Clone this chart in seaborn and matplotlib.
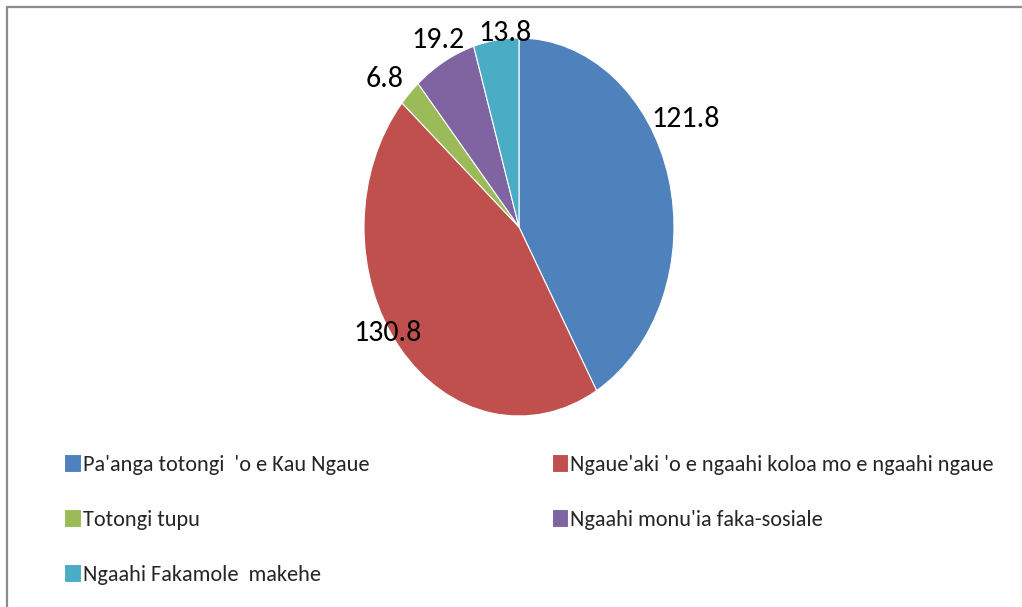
import numpy as np
import matplotlib
matplotlib.use("Agg")
import matplotlib.pyplot as plt
from matplotlib.patches import Rectangle
import seaborn as sns

# Income sources (values shown on the slices)
categories = [
    "Pa'anga totongi  'o e Kau Ngaue",
    "Ngaue'aki 'o e ngaahi koloa mo e ngaahi ngaue",
    "Totongi tupu",
    "Ngaahi monu'ia faka-sosiale",
    "Ngaahi Fakamole  makehe",
]
values = [121.8, 130.8, 6.8, 19.2, 13.8]
value_labels = ["121.8", "130.8", "6.8", "19.2", "13.8"]

slice_colors = ["#4F81BD", "#C0504D", "#9BBB59", "#8064A2", "#4BACC6"]

# Per-label nudges (degrees along the rim, radius in pie units)
label_angle_shift = [-13, 6, -3, 1, 3.5]
label_radius = [1.22, 1.02, 1.17, 1.12, 1.03]

sns.set_theme(style="white")
plt.rcParams["font.family"] = ["Carlito", "DejaVu Sans"]

W, H = 1022, 607
fig = plt.figure(figsize=(W / 100, H / 100), dpi=100)
fig.patch.set_facecolor("white")

# Chart-area border (open on the right and bottom)
fig.add_artist(Rectangle((6.5 / W, -0.1), 1.2, (H - 6.5) / H + 0.1,
                         transform=fig.transFigure, fill=False,
                         edgecolor="#8C8C8C", linewidth=1.6))

cx, cy, rx, ry = 519, 227, 155, 189
ax = fig.add_axes([(cx - rx) / W, 1 - (cy + ry) / H, 2 * rx / W, 2 * ry / H])
palette = sns.color_palette(slice_colors)
wedges, _ = ax.pie(values, colors=palette, startangle=90, counterclock=False,
                   wedgeprops=dict(edgecolor="white", linewidth=0.8))
ax.set_aspect("auto")
ax.set_xlim(-1, 1)
ax.set_ylim(-1, 1)
ax.axis("off")

total = float(np.sum(values))
start = 0.0
for v, txt, dth, r in zip(values, value_labels, label_angle_shift, label_radius):
    mid = start + v / total * 360 / 2 + dth
    start += v / total * 360
    a = np.deg2rad(mid)
    ax.text(r * np.sin(a), r * np.cos(a), txt, ha="center", va="center",
            fontsize=21.5, color="black", clip_on=False)

# Legend: two columns, filled row by row
order = [0, 2, 4, 1, 3]
leg = fig.legend([wedges[i] for i in order], [categories[i] for i in order],
                 ncol=2, loc="upper left", bbox_to_anchor=(64 / W, 1 - 454 / H),
                 frameon=False, fontsize=16.0, handlelength=0.75, handleheight=0.85,
                 handletextpad=0.1, labelspacing=1.55, columnspacing=8.2,
                 borderaxespad=0, borderpad=0)

fig.savefig("out.png", dpi=100)
